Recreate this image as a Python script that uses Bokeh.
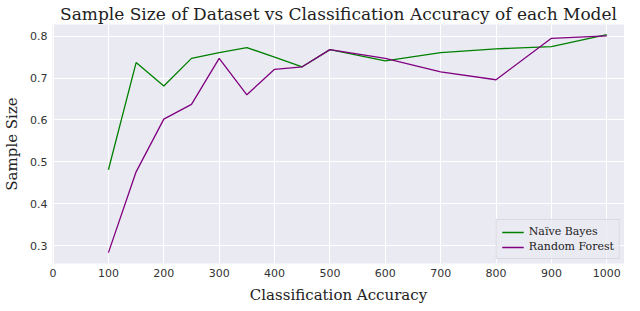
from bokeh.plotting import figure
from bokeh.embed import file_html
from bokeh.resources import INLINE
from bokeh.models import Legend, LegendItem, FixedTicker

sample_sizes = [100, 150, 200, 250, 300, 350, 400, 450, 500, 600, 700, 800, 900, 1000]
naive_bayes = [0.481, 0.737, 0.681, 0.747, 0.761, 0.773, 0.750, 0.727, 0.768, 0.741, 0.761, 0.770, 0.775, 0.804]
random_forest = [0.283, 0.476, 0.602, 0.637, 0.747, 0.660, 0.721, 0.727, 0.768, 0.747, 0.715, 0.696, 0.795, 0.801]
x_ticks = [0, 100, 200, 300, 400, 500, 600, 700, 800, 900, 1000]
y_ticks = [0.3, 0.4, 0.5, 0.6, 0.7, 0.8]
x_label = "Classification Accuracy"
y_label = "Sample Size"
title = "Sample Size of Dataset vs Classification Accuracy of each Model"

p = figure(width=624, frame_height=239, x_range=(-1, 1032), y_range=(0.257, 0.828),
           output_backend="svg", toolbar_location=None,
           min_border_left=0, min_border_right=0, min_border_top=0, min_border_bottom=0)

p.title.text = title
p.title.text_font = "DejaVu Serif"
p.title.text_font_size = "17px"
p.title.text_font_style = "normal"
p.title.text_color = "#222222"
p.title.align = "center"
p.title.standoff = 2
p.title.offset = 0

p.background_fill_color = "#EAEAF2"
p.border_fill_color = "white"
p.outline_line_color = None

for ax in (p.xaxis, p.yaxis):
    ax.axis_line_color = None
    ax.major_tick_line_color = None
    ax.minor_tick_line_color = None
    ax.major_tick_out = 0
    ax.major_tick_in = 0
    ax.minor_tick_out = 0
    ax.minor_tick_in = 0
    ax.major_label_text_font = "DejaVu Sans"
    ax.major_label_text_font_size = "11px"
    ax.major_label_text_color = "#333333"
    ax.axis_label_text_font = "DejaVu Serif"
    ax.axis_label_text_font_size = "15px"
    ax.axis_label_text_font_style = "normal"
    ax.axis_label_text_color = "#222222"

p.xaxis.ticker = FixedTicker(ticks=x_ticks)
p.yaxis.ticker = FixedTicker(ticks=y_ticks)
p.xaxis.axis_label = x_label
p.yaxis.axis_label = y_label
p.xaxis.major_label_standoff = 5
p.yaxis.major_label_standoff = 5
p.xaxis.axis_label_standoff = 6
p.yaxis.axis_label_standoff = 6

p.xgrid.grid_line_color = "white"
p.ygrid.grid_line_color = "white"
p.xgrid.grid_line_width = 1
p.ygrid.grid_line_width = 1

r1 = p.line(sample_sizes, naive_bayes, line_color="green", line_width=1.3)
r2 = p.line(sample_sizes, random_forest, line_color="purple", line_width=1.3)

legend = Legend(items=[LegendItem(label="Naïve Bayes", renderers=[r1]),
                       LegendItem(label="Random Forest", renderers=[r2])],
                location="bottom_right")
legend.label_text_font = "DejaVu Serif"
legend.label_text_font_size = "11px"
legend.label_text_color = "#222222"
legend.background_fill_color = "#EAEAF2"
legend.background_fill_alpha = 0.8
legend.border_line_color = "#cccccc"
legend.border_line_width = 1
legend.glyph_width = 22
legend.glyph_height = 12
legend.label_height = 12
legend.spacing = 2
legend.padding = 5
legend.margin = 4
p.add_layout(legend)

open("out.html", "w").write(file_html(p, INLINE))
